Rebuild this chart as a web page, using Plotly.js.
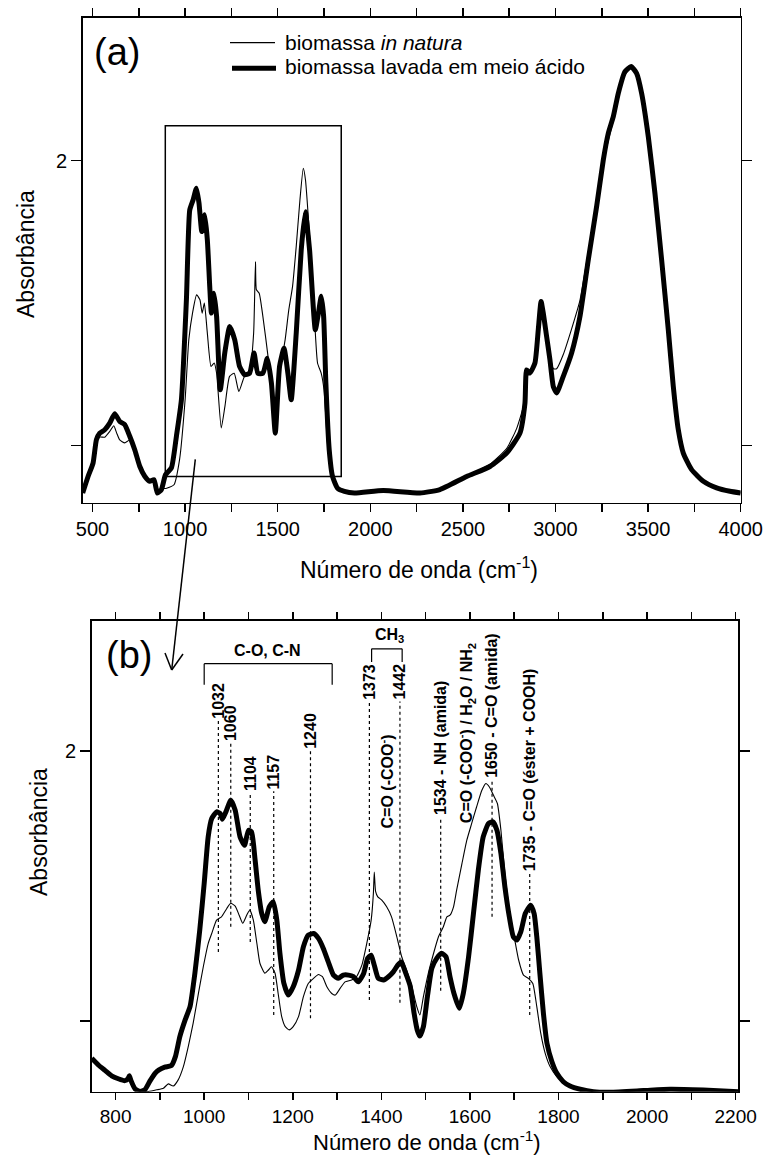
<!DOCTYPE html>
<html><head><meta charset="utf-8">
<script src="https://cdn.plot.ly/plotly-3.0.1.min.js"></script>
<style>html,body{margin:0;padding:0;background:#fff;} #chart{width:765px;height:1162px;}</style>
</head><body><div id="chart"></div>
<script>
// ---------- DATA: panel (a), full spectrum ----------
const wnNat = [447,476,503,521,539,566,593,615,630,647,674,701,728,755,782,809,832,850,872,900,940,970,1000,1020,1040,1062,1080,1092,1104,1120,1140,1157,1170,1195,1215,1240,1265,1290,1320,1350,1370,1380,1385,1400,1420,1450,1470,1490,1510,1540,1560,1580,1600,1620,1638,1650,1665,1690,1715,1735,1750,1770,1790,1823,1860,1914,2070,2268,2376,2520,2646,2736,2790,2835,2844,2862,2889,2907,2922,2934,2952,2970,2988,3006,3042,3087,3132,3177,3222,3258,3285,3312,3339,3375,3408,3438,3465,3501,3537,3573,3609,3636,3663,3690,3735,3798,3870,3942,4000];
const absNat = [0.834,0.89,0.935,1.01,1.03,1.03,1.05,1.07,1.045,1.02,1.01,1.02,0.98,0.925,0.89,0.872,0.875,0.834,0.848,0.851,0.863,0.951,1.161,1.372,1.465,1.529,1.512,1.465,1.500,1.395,1.278,1.290,1.254,1.062,1.138,1.243,1.254,1.190,1.243,1.266,1.395,1.646,1.547,1.535,1.453,1.301,1.173,1.120,1.254,1.371,1.477,1.558,1.699,1.862,1.973,1.932,1.804,1.558,1.290,1.254,1.196,0.998,0.904,0.851,0.840,0.834,0.843,0.834,0.846,0.892,0.935,0.99,1.06,1.16,1.266,1.258,1.29,1.41,1.506,1.465,1.39,1.32,1.27,1.27,1.32,1.41,1.51,1.68,1.85,1.99,2.07,2.14,2.22,2.30,2.325,2.30,2.236,2.084,1.885,1.652,1.407,1.208,1.056,0.974,0.916,0.875,0.852,0.840,0.834];
const wnLav = [447,476,503,521,539,566,593,620,647,674,701,728,755,782,809,832,850,872,894,926,953,980,1007,1025,1043,1061,1075,1090,1106,1120,1133,1142,1156,1170,1190,1214,1241,1268,1294,1321,1348,1372,1393,1420,1444,1466,1487,1510,1534,1555,1573,1600,1627,1649,1672,1703,1720,1735,1748,1760,1778,1796,1823,1860,1914,2070,2268,2376,2520,2646,2736,2808,2835,2844,2862,2889,2907,2922,2934,2952,2970,2988,3006,3042,3087,3132,3177,3222,3258,3285,3312,3339,3375,3408,3438,3465,3501,3537,3573,3609,3636,3663,3690,3735,3798,3870,3942,4000];
const absLav = [0.834,0.892,0.939,1.021,1.044,1.056,1.079,1.112,1.085,1.074,1.033,0.986,0.928,0.893,0.875,0.881,0.834,0.846,0.898,0.922,1.033,1.161,1.512,1.827,1.862,1.903,1.851,1.751,1.810,1.722,1.558,1.465,1.535,1.453,1.196,1.325,1.418,1.371,1.278,1.249,1.254,1.325,1.254,1.254,1.307,1.220,1.044,1.278,1.342,1.254,1.161,1.395,1.687,1.821,1.687,1.407,1.465,1.524,1.453,1.220,0.986,0.892,0.851,0.840,0.834,0.843,0.834,0.846,0.892,0.927,0.974,1.044,1.149,1.266,1.255,1.290,1.407,1.506,1.465,1.383,1.301,1.208,1.185,1.243,1.325,1.453,1.652,1.839,2.002,2.096,2.154,2.236,2.312,2.330,2.306,2.236,2.084,1.885,1.652,1.407,1.208,1.056,0.974,0.916,0.875,0.852,0.840,0.834];

// ---------- DATA: panel (b), 750-2200 cm-1 detail ----------
const wnNatZoom = [746,761,776,791,806,821,831,836,844,855,874,893,908,919,930,941,953,964,975,987,998,1009,1017,1028,1039,1051,1060,1070,1079,1087,1096,1103,1111,1119,1126,1137,1145,1152,1160,1167,1175,1183,1192,1201,1213,1224,1235,1247,1258,1267,1277,1288,1296,1307,1318,1333,1344,1356,1367,1377,1382,1384,1387,1392,1401,1412,1423,1435,1446,1457,1469,1480,1487,1495,1506,1518,1529,1540,1548,1555,1563,1570,1582,1593,1604,1615,1627,1636,1644,1653,1662,1670,1679,1689,1700,1710,1721,1732,1742,1751,1760,1770,1781,1796,1811,1826,1849,1879,1917,1992,2052,2127,2206];
const absNatZoom = [0.856,0.835,0.815,0.796,0.785,0.778,0.790,0.776,0.748,0.739,0.739,0.745,0.751,0.767,0.759,0.781,0.831,0.905,0.991,1.102,1.201,1.287,1.324,1.374,1.386,1.417,1.436,1.426,1.392,1.362,1.392,1.411,1.374,1.287,1.213,1.177,1.189,1.201,1.177,1.102,1.016,0.979,0.967,0.979,1.016,1.090,1.139,1.158,1.172,1.164,1.127,1.102,1.096,1.121,1.145,1.152,1.164,1.207,1.287,1.374,1.472,1.552,1.480,1.460,1.448,1.423,1.386,1.312,1.238,1.188,1.127,1.053,1.022,1.090,1.176,1.251,1.312,1.349,1.386,1.392,1.423,1.485,1.583,1.670,1.732,1.793,1.855,1.880,1.867,1.837,1.806,1.707,1.547,1.411,1.312,1.226,1.170,1.158,1.139,1.053,0.954,0.880,0.831,0.794,0.772,0.758,0.747,0.738,0.736,0.742,0.747,0.744,0.738];
const wnLavZoom = [746,761,776,791,806,821,828,831,835,844,855,866,877,889,898,911,926,935,945,957,968,979,990,1000,1009,1017,1028,1036,1041,1049,1060,1070,1081,1091,1100,1107,1115,1122,1130,1137,1147,1156,1164,1171,1180,1190,1201,1213,1224,1235,1247,1258,1269,1280,1292,1303,1314,1326,1337,1348,1360,1369,1377,1384,1393,1405,1416,1427,1437,1445,1454,1465,1474,1481,1487,1495,1504,1514,1525,1536,1546,1555,1564,1576,1585,1597,1608,1619,1630,1642,1652,1661,1670,1679,1689,1698,1706,1715,1725,1737,1745,1751,1758,1766,1774,1785,1796,1811,1826,1849,1879,1917,1992,2052,2127,2206];
const absLavZoom = [0.862,0.837,0.817,0.797,0.786,0.779,0.786,0.797,0.778,0.748,0.739,0.745,0.776,0.806,0.819,0.829,0.835,0.868,0.942,1.004,1.053,1.177,1.337,1.510,1.682,1.750,1.775,1.769,1.748,1.775,1.818,1.781,1.682,1.651,1.707,1.701,1.596,1.485,1.398,1.368,1.423,1.442,1.374,1.251,1.139,1.096,1.127,1.188,1.275,1.318,1.324,1.306,1.269,1.220,1.170,1.158,1.170,1.170,1.164,1.145,1.176,1.232,1.244,1.207,1.158,1.152,1.164,1.182,1.207,1.219,1.182,1.130,1.028,0.967,0.944,0.979,1.090,1.195,1.232,1.251,1.238,1.164,1.102,1.047,1.102,1.238,1.398,1.559,1.682,1.732,1.738,1.707,1.621,1.497,1.386,1.312,1.300,1.331,1.398,1.429,1.398,1.312,1.176,1.028,0.917,0.850,0.807,0.775,0.759,0.747,0.738,0.736,0.742,0.747,0.744,0.738];

// ---------- tick labels ----------
const topTickVals = [500,1000,1500,2000,2500,3000,3500,4000];
const topTickText = ['500','1000','1500','2000','2500','3000','3500','4000'];
const topMinorVals = [750,1250,1750,2250,2750,3250,3750];
const botTickVals = [800,1000,1200,1400,1600,1800,2000,2200];
const botTickText = ['800','1000','1200','1400','1600','1800','2000','2200'];
const botMinorVals = [900,1100,1300,1500,1700,1900,2100];
const yTickVals = [2];
const yTickText = ['2'];
const yMinorVals = [1];

// ---------- band assignments (panel b) ----------
const bandPos = [1032,1060,1104,1157,1240,1373,1442,1534,1650,1735];
const bandText = ['1032','1060','1104','1157','1240','1373','1442','1534 - NH (amida)','1650 - C=O (amida)','1735 - C=O (éster + COOH)'];
const seriesNames = ['biomassa <i>in natura</i>', 'biomassa lavada em meio ácido'];

// ---------- layout helpers (pixel -> paper) ----------
const W = 765, H = 1162;
const px = x => x / W, py = y => 1 - y / H;
const guideTop    = [2.114,2.029,1.844,1.851,2.003,2.184,2.184,1.755,1.892,1.548];
const guideBottom = [1.256,1.349,1.293,1.022,1.010,1.078,1.068,1.112,1.386,1.022];

const FONT = 'Liberation Sans, Arial, Helvetica, sans-serif';
const thin = {color:'black', width:1.1, shape:'spline', smoothing:0.5};
const thick = {color:'black', width:5, shape:'spline', smoothing:0.5};

const traces = [
  {x: wnNat, y: absNat, xaxis:'x', yaxis:'y', mode:'lines', line: thin, name: seriesNames[0]},
  {x: wnLav, y: absLav, xaxis:'x', yaxis:'y', mode:'lines', line: thick, name: seriesNames[1]},
  {x: wnNatZoom, y: absNatZoom, xaxis:'x2', yaxis:'y2', mode:'lines', line: thin, name: seriesNames[0]},
  {x: wnLavZoom, y: absLavZoom, xaxis:'x2', yaxis:'y2', mode:'lines', line: thick, name: seriesNames[1]}
];

const axCommon = {
  ticks:'outside', tickwidth:1.5, tickcolor:'black', showline:true, linewidth:1.5, linecolor:'black',
  mirror:'allticks', showgrid:false, zeroline:false, tickfont:{size:20, family:FONT, color:'black'},
  automargin:false, fixedrange:true
};
const minor = (vals, len) => ({tickmode:'array', tickvals:vals, ticks:'outside', ticklen:len, tickwidth:1.5, tickcolor:'black', showgrid:false});

const shapes = [];
const annotations = [];

// zoom rectangle on panel (a)
shapes.push({type:'rect', xref:'x', yref:'y', x0:893, x1:1843, y0:0.892, y1:2.122, line:{color:'black', width:1.5}});
// arrow from rectangle to panel (b)
shapes.push({type:'line', xref:'paper', yref:'paper', x0:px(195.3), y0:py(459.3), x1:px(171.7), y1:py(670), line:{color:'black', width:1.5}});
shapes.push({type:'line', xref:'paper', yref:'paper', x0:px(165), y0:py(653), x1:px(171.7), y1:py(670), line:{color:'black', width:1.5}});
shapes.push({type:'line', xref:'paper', yref:'paper', x0:px(183), y0:py(654), x1:px(171.7), y1:py(670), line:{color:'black', width:1.5}});
// legend samples
shapes.push({type:'line', xref:'paper', yref:'paper', x0:px(230), x1:px(275), y0:py(42.7), y1:py(42.7), line:{color:'black', width:1.2}});
shapes.push({type:'line', xref:'paper', yref:'paper', x0:px(232), x1:px(276), y0:py(68.3), y1:py(68.3), line:{color:'black', width:5}});
annotations.push({xref:'paper', yref:'paper', x:px(283), y:py(42), xanchor:'left', yanchor:'middle', showarrow:false, text:seriesNames[0], font:{size:21, family:FONT, color:'black'}});
annotations.push({xref:'paper', yref:'paper', x:px(283), y:py(67), xanchor:'left', yanchor:'middle', showarrow:false, text:seriesNames[1], font:{size:21, family:FONT, color:'black'}});

// panel letters
annotations.push({xref:'paper', yref:'paper', x:px(116.7), y:py(52), xanchor:'center', yanchor:'middle', showarrow:false, text:'(a)', font:{size:38, family:FONT, color:'black'}});
annotations.push({xref:'paper', yref:'paper', x:px(128.5), y:py(655), xanchor:'center', yanchor:'middle', showarrow:false, text:'(b)', font:{size:38, family:FONT, color:'black'}});

// axis titles
const xTitle = 'Número de onda (cm<sup>-1</sup>)';
annotations.push({xref:'paper', yref:'paper', x:px(419), y:py(568), xanchor:'center', yanchor:'middle', showarrow:false, text:xTitle, font:{size:23, family:FONT, color:'black'}});
annotations.push({xref:'paper', yref:'paper', x:px(427), y:py(1141), xanchor:'center', yanchor:'middle', showarrow:false, text:xTitle, font:{size:22, family:FONT, color:'black'}});
annotations.push({xref:'paper', yref:'paper', x:px(26), y:py(254), xanchor:'center', yanchor:'middle', showarrow:false, textangle:-90, text:'Absorbância', font:{size:23, family:FONT, color:'black'}});
annotations.push({xref:'paper', yref:'paper', x:px(39), y:py(832), xanchor:'center', yanchor:'middle', showarrow:false, textangle:-90, text:'Absorbância', font:{size:23, family:FONT, color:'black'}});

// band guides and labels (panel b)
const lblFont = {size:16, family:FONT, color:'black'};
bandPos.forEach((b, i) => {
  shapes.push({type:'line', xref:'x2', yref:'y2', x0:b, x1:b, y0:guideBottom[i], y1:guideTop[i], line:{color:'black', width:1.2, dash:'dot'}});
  annotations.push({xref:'x2', yref:'y2', x:b, y:guideTop[i], xanchor:'center', yanchor:'bottom', showarrow:false, textangle:-90, text:'<b>'+bandText[i]+'</b>', font:lblFont});
});
annotations.push({xref:'x2', yref:'y2', x:1413, y:1.888, xanchor:'center', yanchor:'middle', showarrow:false, textangle:-90, text:'<b>C=O (-COO<sup>-</sup>)</b>', font:lblFont});
annotations.push({xref:'x2', yref:'y2', x:1593, y:1.725, xanchor:'center', yanchor:'bottom', showarrow:false, textangle:-90, text:'<b>C=O (-COO<sup>-</sup>) / H<sub>2</sub>O / NH<sub>2</sub></b>', font:lblFont});
// brackets
const br = (x0,y0,x1,y1) => shapes.push({type:'line', xref:'x2', yref:'y2', x0, y0, x1, y1, line:{color:'black', width:1.2}});
br(1000,2.246,1000,2.324); br(1000,2.324,1289,2.324); br(1289,2.324,1289,2.246);
br(1378,2.330,1378,2.379); br(1378,2.379,1447,2.379); br(1447,2.379,1447,2.330);
annotations.push({xref:'x2', yref:'y2', x:1144, y:2.333, xanchor:'center', yanchor:'bottom', showarrow:false, text:'<b>C-O, C-N</b>', font:lblFont});
annotations.push({xref:'x2', yref:'y2', x:1418, y:2.385, xanchor:'center', yanchor:'bottom', showarrow:false, text:'<b>CH<sub>3</sub></b>', font:lblFont});

const layout = {
  width:W, height:H, margin:{l:0, r:0, t:0, b:0}, paper_bgcolor:'white', plot_bgcolor:'white',
  showlegend:false, font:{family:FONT, color:'black'},
  xaxis: Object.assign({}, axCommon, {domain:[px(82.7), px(740.7)], range:[447, 4000], tickmode:'array', tickvals:topTickVals, ticktext:topTickText, ticklen:8, minor:minor(topMinorVals, 8), anchor:'y'}),
  yaxis: Object.assign({}, axCommon, {domain:[py(502.7), py(17.5)], range:[0.80, 2.502], tickmode:'array', tickvals:yTickVals, ticktext:yTickText, ticklen:10, minor:minor(yMinorVals, 10), anchor:'x'}),
  xaxis2: Object.assign({}, axCommon, {domain:[px(91.7), px(738.3)], range:[746, 2206], tickmode:'array', tickvals:botTickVals, ticktext:botTickText, ticklen:7, minor:minor(botMinorVals, 7), tickfont:{size:19, family:FONT, color:'black'}, anchor:'y2'}),
  yaxis2: Object.assign({}, axCommon, {domain:[py(1091.7), py(620.5)], range:[0.738, 2.484], tickmode:'array', tickvals:yTickVals, ticktext:yTickText, ticklen:10, minor:minor(yMinorVals, 10), anchor:'x2'}),
  shapes: shapes, annotations: annotations
};

Plotly.newPlot('chart', traces, layout, {displayModeBar:false, staticPlot:true});
</script></body></html>
